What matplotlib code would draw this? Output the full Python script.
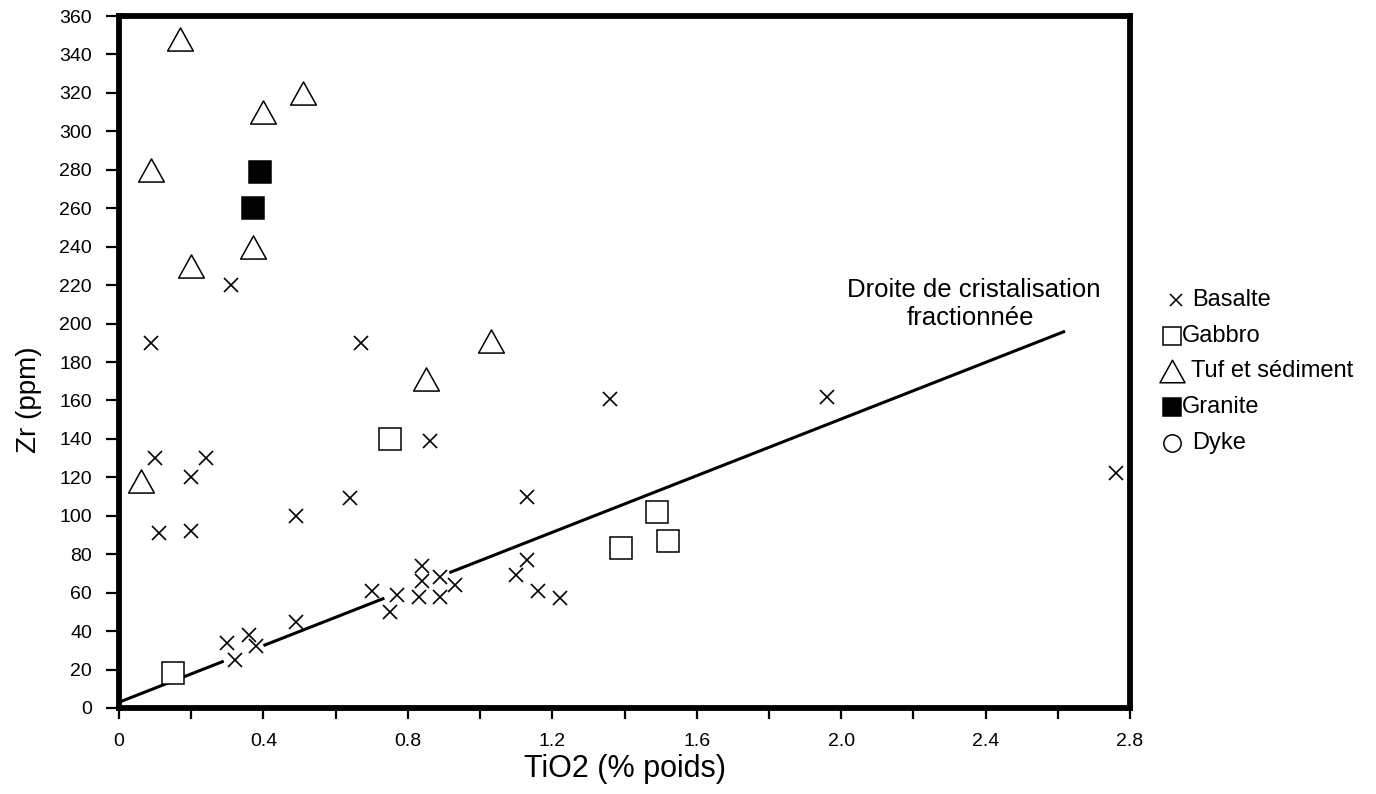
import numpy as np
import matplotlib
matplotlib.use("Agg")
import matplotlib.pyplot as plt
from matplotlib.path import Path

plt.rcParams['font.family'] = ['Liberation Sans', 'DejaVu Sans']

# TiO2 (% poids) / Zr (ppm) by rock type
basalte_ti = [0.09, 0.10, 0.11, 0.20, 0.20, 0.24, 0.31, 0.30, 0.32, 0.36, 0.38,
              0.49, 0.49, 0.64, 0.67, 0.70, 0.75, 0.77, 0.83, 0.84, 0.84, 0.86,
              0.89, 0.89, 0.93, 1.10, 1.13, 1.13, 1.16, 1.22, 1.36, 1.96, 2.76]
basalte_zr = [190, 130, 91, 120, 92, 130, 220, 34, 25, 38, 32,
              100, 45, 109, 190, 61, 50, 59, 58, 66, 74, 139,
              68, 58, 64, 69, 110, 77, 61, 57, 161, 162, 122]

gabbro_ti = [0.15, 0.75, 1.39, 1.49, 1.52]
gabbro_zr = [18, 140, 83, 102, 87]

tuf_ti = [0.06, 0.09, 0.17, 0.20, 0.37, 0.40, 0.51, 0.85, 1.03]
tuf_zr = [118, 280, 348, 230, 240, 310, 320, 171, 191]

granite_ti = [0.37, 0.39]
granite_zr = [260, 279]

dyke_ti = []
dyke_zr = []

# fractional crystallisation trend: end points and the stretches actually inked
trend_ti = [0.0, 2.62]
trend_zr = [3, 196]
trend_pieces = [(0.0, 0.29), (0.40, 0.735), (0.915, 2.62)]

x_ticks = [0, 0.4, 0.8, 1.2, 1.6, 2.0, 2.4, 2.8]
x_labels = ['0', '0.4', '0.8', '1.2', '1.6', '2.0', '2.4', '2.8']
y_ticks = list(range(0, 361, 20))

W, H = 1376, 794
fig = plt.figure(figsize=(W / 100, H / 100), dpi=100)
ax = fig.add_axes([119 / W, 1 - 708 / H, (1130 - 119) / W, (708 - 16) / H])

tri = Path([(-1, -0.9), (1, -0.9), (0, 0.9), (-1, -0.9)],
           [Path.MOVETO, Path.LINETO, Path.LINETO, Path.CLOSEPOLY])

for a, b in trend_pieces:
    xs = [a, b]
    ys = np.interp(xs, trend_ti, trend_zr)
    ax.plot(xs, ys, color='black', lw=2.2, solid_capstyle='butt', zorder=2)

ax.plot(basalte_ti, basalte_zr, ls='none', marker='x', ms=10, mew=1.2,
        color='black', zorder=3)
ax.plot(gabbro_ti, gabbro_zr, ls='none', marker='s', ms=16, mew=1.1,
        mfc='white', mec='black', zorder=3)
ax.plot(tuf_ti, tuf_zr, ls='none', marker=tri, ms=18.5, mew=1.1,
        mfc='white', mec='black', zorder=3)
ax.plot(granite_ti, granite_zr, ls='none', marker='s', ms=15.5, mew=1.1,
        mfc='black', mec='black', zorder=3)
ax.plot(dyke_ti, dyke_zr, ls='none', marker='o', ms=12, mew=1.1,
        mfc='white', mec='black', zorder=3)

ax.set_xlim(0, 2.8)
ax.set_ylim(0, 360)
ax.set_xticks(x_ticks)
ax.set_xticklabels(x_labels)
ax.set_xticks(np.arange(0.2, 2.8, 0.4), minor=True)
ax.set_yticks(y_ticks)

for s in ax.spines.values():
    s.set_linewidth(4.2)
    s.set_color('black')

ax.tick_params(axis='both', which='both', direction='out',
               width=1.6, color='black', labelsize=14)
ax.tick_params(axis='x', which='both', length=8, pad=10)
ax.tick_params(axis='y', which='both', length=9.5, pad=10)

ax.set_xlabel('TiO2 (% poids)', fontsize=22)
ax.xaxis.set_label_coords(0.5, -0.066)
ax.set_ylabel('Zr (ppm)', fontsize=20)
ax.yaxis.set_label_coords(-0.076, 0.445)

ax.text(2.368, 213.8, 'Droite de cristalisation', ha='center',
        va='baseline', fontsize=18.5)
ax.text(2.357, 199.3, 'fractionnée', ha='center', va='baseline', fontsize=18.5)

# legend drawn beside the frame
legend_rows = [
    ('x', 'Basalte', 'white', 9, 1192),
    ('s', 'Gabbro', 'white', 12.5, 1182),
    (tri, 'Tuf et sédiment', 'white', 18, 1191),
    ('s', 'Granite', 'black', 12.5, 1182),
    ('o', 'Dyke', 'white', 12.5, 1192),
]
row_y = [300, 336, 371, 407, 443]
for (mk, label, fc, ms, tx), py in zip(legend_rows, row_y):
    fy = 1 - py / H
    mx = 1176 if mk == 'x' else 1172
    fig.lines.append(plt.Line2D([mx / W], [fy], transform=fig.transFigure,
                                ls='none', marker=mk, ms=ms, mew=1.1,
                                mfc=fc, mec='black', color='black'))
    fig.text(tx / W, fy, label, ha='left', va='center', fontsize=17)

fig.savefig('out.png', dpi=100)
